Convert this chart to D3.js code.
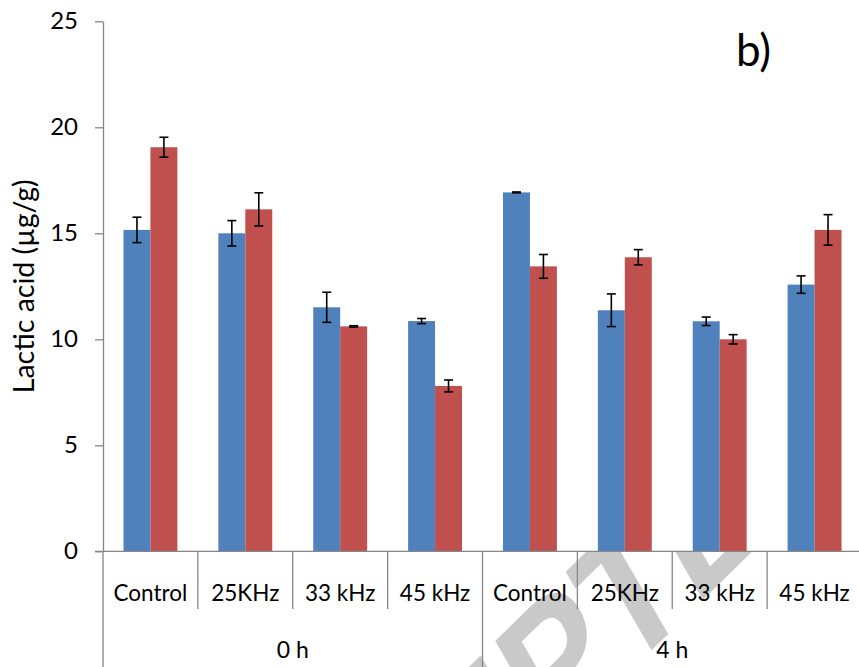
<!DOCTYPE html>
<html>
<head>
<meta charset="utf-8">
<script src="https://cdn.jsdelivr.net/npm/d3@7"></script>
<style>
  html, body { margin: 0; padding: 0; background: #fff; }
  svg { display: block; }
  text { font-family: Lato, "Open Sans", sans-serif; fill: #000; }
</style>
</head>
<body>
<svg id="chart" width="859" height="667"></svg>
<script>
// ---- data ----
const categories = ["Control", "25KHz", "33 kHz", "45 kHz", "Control", "25KHz", "33 kHz", "45 kHz"];
const groups = ["0 h", "4 h"];
const series = ["s1", "s2"];
const blueValues = [15.16, 15.0, 11.51, 10.86, 16.93, 11.37, 10.85, 12.58];
const blueErrors = [0.60, 0.60, 0.71, 0.12, 0.02, 0.77, 0.20, 0.41];
const redValues = [19.06, 16.13, 10.61, 7.80, 13.44, 13.87, 10.00, 15.16];
const redErrors = [0.47, 0.78, 0.03, 0.28, 0.56, 0.36, 0.22, 0.72];
const yTicks = [0, 5, 10, 15, 20, 25];
const yTitle = "Lactic acid (µg/g)";
const panelLabel = "b)";
const watermark = "ACCEPTED";

// ---- layout ----
const svg = d3.select("#chart");
const W = 859, H = 667;
const plotLeft = 103, plotRight = 862, plotTop = 21.3, plotBottom = 551.3;
const colors = { s1: "#4F81BD", s2: "#C0504D" };
const axisColor = "#868686";

const y = d3.scaleLinear().domain([0, 25]).range([plotBottom, plotTop]);
const x0 = d3.scaleBand().domain(d3.range(categories.length)).range([plotLeft, plotRight]).padding(0);
const x1 = d3.scaleBand().domain(series).range([0, x0.bandwidth()]).paddingInner(0).paddingOuter(0.76);

// ---- watermark (behind plot area) ----
const wmFont = 145;
const wmFamily = "'Liberation Sans', Arial, sans-serif";
const wm = svg.append("g").attr("transform", "translate(660,642) scale(1,1.3) rotate(-37)");
const meas = wm.append("text").style("font-family", wmFamily)
  .style("font-weight", "bold").style("font-size", wmFont + "px").text(watermark.slice(0, 5));
const prefixLen = meas.node().getComputedTextLength();
meas.text(watermark.slice(5, 6));
const tLen = meas.node().getComputedTextLength();
meas.remove();
wm.append("text")
  .attr("x", -(prefixLen + tLen / 2)).attr("y", 0)
  .style("font-family", wmFamily)
  .style("font-weight", "bold").style("font-size", wmFont + "px")
  .style("fill", "#c9c9c9")
  .text(watermark);

// white plot area covering watermark
svg.append("rect").attr("x", plotLeft).attr("y", 0).attr("width", W - plotLeft).attr("height", plotBottom).attr("fill", "#fff");

// ---- bars ----
const rows = categories.map((c, i) => ({
  i,
  vals: [
    { key: "s1", v: blueValues[i], e: blueErrors[i] },
    { key: "s2", v: redValues[i], e: redErrors[i] }
  ]
}));

const gCat = svg.append("g").selectAll("g").data(rows).join("g")
  .attr("transform", d => `translate(${x0(d.i)},0)`);

gCat.selectAll("rect").data(d => d.vals).join("rect")
  .attr("x", d => x1(d.key))
  .attr("width", x1.bandwidth())
  .attr("y", d => y(d.v))
  .attr("height", d => y(0) - y(d.v))
  .attr("fill", d => colors[d.key]);

// error bars
const capW = 4.5;
const eb = gCat.selectAll("g.eb").data(d => d.vals).join("g").attr("class", "eb")
  .attr("stroke", "#000").attr("stroke-width", 1.6);
eb.append("line")
  .attr("x1", d => x1(d.key) + x1.bandwidth() / 2).attr("x2", d => x1(d.key) + x1.bandwidth() / 2)
  .attr("y1", d => y(d.v + d.e)).attr("y2", d => y(d.v - d.e));
eb.append("line")
  .attr("x1", d => x1(d.key) + x1.bandwidth() / 2 - capW).attr("x2", d => x1(d.key) + x1.bandwidth() / 2 + capW)
  .attr("y1", d => y(d.v + d.e)).attr("y2", d => y(d.v + d.e));
eb.append("line")
  .attr("x1", d => x1(d.key) + x1.bandwidth() / 2 - capW).attr("x2", d => x1(d.key) + x1.bandwidth() / 2 + capW)
  .attr("y1", d => y(d.v - d.e)).attr("y2", d => y(d.v - d.e));

// ---- y axis ----
const yAxis = svg.append("g").attr("transform", `translate(${plotLeft},0)`)
  .call(d3.axisLeft(y).tickValues(yTicks).tickSize(8).tickPadding(17).tickSizeOuter(0));
yAxis.select(".domain").attr("stroke", axisColor).attr("stroke-width", 1.3);
yAxis.selectAll(".tick line").attr("stroke", axisColor).attr("stroke-width", 1.3);
yAxis.selectAll(".tick text").style("font-family", "Lato, sans-serif").style("font-size", "24px").attr("fill", "#000");

// y title
svg.append("text")
  .attr("transform", `translate(34,${(plotTop + plotBottom) / 2}) rotate(-90)`)
  .attr("text-anchor", "middle")
  .style("font-size", "28.5px")
  .text(yTitle);

// ---- x axis (multi-level) ----
const xg = svg.append("g");
xg.append("line").attr("x1", plotLeft - 8).attr("x2", plotRight)
  .attr("y1", plotBottom).attr("y2", plotBottom)
  .attr("stroke", axisColor).attr("stroke-width", 1.3);

const boundaries = d3.range(categories.length + 1);
xg.selectAll("line.div").data(boundaries).join("line").attr("class", "div")
  .attr("x1", i => i === categories.length ? plotRight : x0(i))
  .attr("x2", i => i === categories.length ? plotRight : x0(i))
  .attr("y1", plotBottom)
  .attr("y2", i => (i % 4 === 0) ? H : 609)
  .attr("stroke", axisColor).attr("stroke-width", 1.3);

xg.selectAll("text.cat").data(categories).join("text").attr("class", "cat")
  .attr("x", (d, i) => x0(i) + x0.bandwidth() / 2)
  .attr("y", 601)
  .attr("text-anchor", "middle")
  .style("font-size", "22.5px")
  .text(d => d);

xg.selectAll("text.grp").data(groups).join("text").attr("class", "grp")
  .attr("x", (d, i) => (x0(i * 4) + x0(i * 4 + 3) + x0.bandwidth()) / 2)
  .attr("y", 658)
  .attr("text-anchor", "middle")
  .style("font-size", "23px")
  .text(d => d);

// panel label
svg.append("text").attr("x", 736).attr("y", 66)
  .style("font-size", "44px").text(panelLabel);
</script>
</body>
</html>
